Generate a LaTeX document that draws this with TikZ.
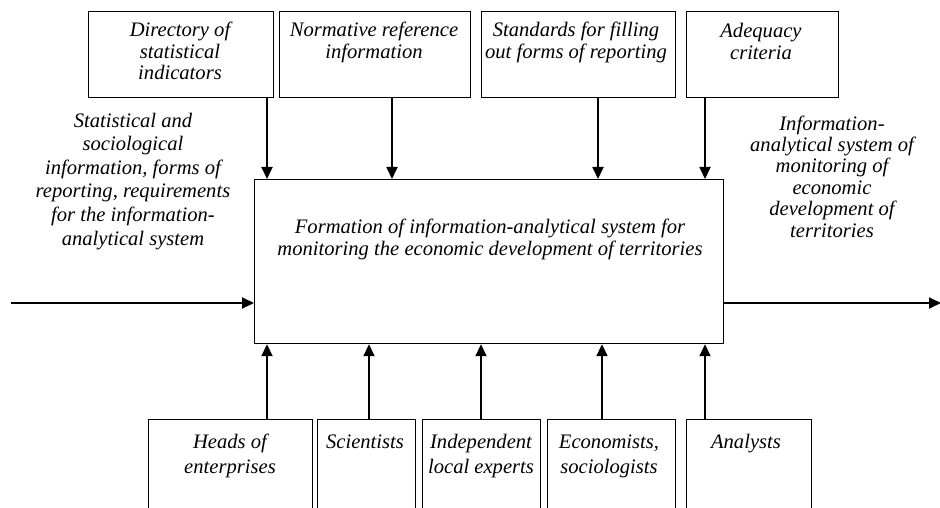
\documentclass[tikz,border=0pt]{standalone}
\usepackage{fontspec}
\setmainfont{Liberation Serif}
\usetikzlibrary{arrows.meta}
\tikzset{
  box/.style={draw, line width=1.2pt, anchor=north west, inner sep=0pt},
  txt/.style={font=\fontsize{20.6}{21.5}\selectfont\itshape, align=center, inner sep=0pt, anchor=base},
  arr/.style={line width=1.8pt, -{Triangle[length=12pt,width=11pt]}}
}
\begin{document}
\begin{tikzpicture}[x=1pt,y=-1pt]
\useasboundingbox (0,0) rectangle (940,508);
\clip (0,0) rectangle (940,508);
% top boxes
\node[box, minimum width=185pt, minimum height=86pt] (d1) at (88,11) {};
\node[box, minimum width=191pt, minimum height=86pt] (d2) at (279,11) {};
\node[box, minimum width=194pt, minimum height=86pt] (d3) at (481,11) {};
\node[box, minimum width=152pt, minimum height=86pt] (d4) at (686,11) {};
\node[txt] (t1) at (180,80) {Directory of\\statistical\\indicators};
\node[txt] (t2) at (374,58.5) {Normative reference\\information};
\node[txt] (t3) at (576,58.5) {Standards for filling\\out forms of reporting};
\node[txt] (t4) at (761,59.5) {Adequacy\\criteria};
% main box
\node[box, minimum width=469pt, minimum height=164pt] (m) at (254,179) {};
\node[txt, font=\fontsize{20.6}{22}\selectfont\itshape] (mt) at (490,255) {Formation of information-analytical system for\\monitoring the economic development of territories};
% side texts
\node[txt, font=\fontsize{20.6}{23.6}\selectfont\itshape] (lt) at (133,245) {Statistical and\\sociological\\information, forms of\\reporting, requirements\\for the information-\\analytical system};
\node[txt, font=\fontsize{20.6}{21.4}\selectfont\itshape] (rt) at (832,237) {Information-\\analytical system of\\monitoring of\\economic\\development of\\territories};
% bottom boxes
\node[box, minimum width=164pt, minimum height=110pt] (b1) at (148,419) {};
\node[box, minimum width=98pt, minimum height=110pt] (b2) at (317,419) {};
\node[box, minimum width=118pt, minimum height=110pt] (b3) at (422,419) {};
\node[box, minimum width=128pt, minimum height=110pt] (b4) at (547,419) {};
\node[box, minimum width=125pt, minimum height=110pt] (b5) at (686,419) {};
\node[txt, font=\fontsize{20.6}{25}\selectfont\itshape] (u1) at (230,473) {Heads of\\enterprises};
\node[txt] (u2) at (365,448) {Scientists};
\node[txt, font=\fontsize{20.6}{25}\selectfont\itshape] (u3) at (481,473) {Independent\\local experts};
\node[txt, font=\fontsize{20.6}{25}\selectfont\itshape] (u4) at (609,473) {Economists,\\sociologists};
\node[txt] (u5) at (746,448) {Analysts};
% arrow x positions
\coordinate (x1) at (267,0);
\coordinate (x2) at (392,0);
\coordinate (x3) at (598,0);
\coordinate (x4) at (705,0);
\coordinate (y1) at (267,0);
\coordinate (y2) at (369,0);
\coordinate (y3) at (481,0);
\coordinate (y4) at (602,0);
\coordinate (y5) at (705,0);
\draw[arr] (d1.south -| x1) -- (m.north -| x1);
\draw[arr] (d2.south -| x2) -- (m.north -| x2);
\draw[arr] (d3.south -| x3) -- (m.north -| x3);
\draw[arr] (d4.south -| x4) -- (m.north -| x4);
\draw[arr] (b1.north -| y1) -- (m.south -| y1);
\draw[arr] (b2.north -| y2) -- (m.south -| y2);
\draw[arr] (b3.north -| y3) -- (m.south -| y3);
\draw[arr] (b4.north -| y4) -- (m.south -| y4);
\draw[arr] (b5.north -| y5) -- (m.south -| y5);
\coordinate (in) at (11,303);
\coordinate (out) at (941,303);
\draw[arr] (in) -- (in -| m.west);
\draw[arr] (m.east |- out) -- (out);
\end{tikzpicture}
\end{document}
